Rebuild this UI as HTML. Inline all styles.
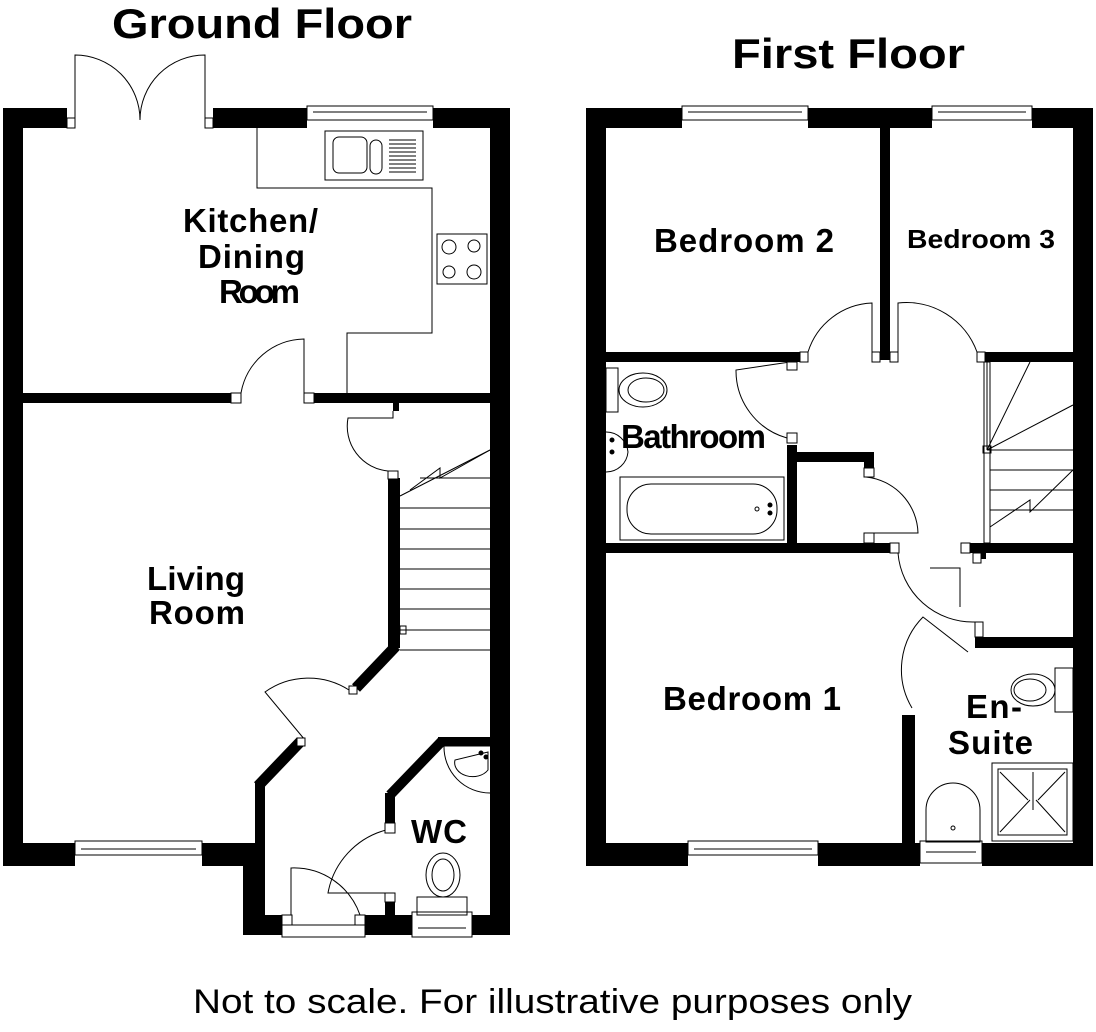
<!DOCTYPE html>
<html><head><meta charset="utf-8"><style>
html,body{margin:0;padding:0;background:#fff;width:1096px;height:1032px;overflow:hidden}
svg{display:block}
text{font-family:"Liberation Sans",Arial,sans-serif;font-weight:bold;fill:#000}
</style></head><body>
<svg width="1096" height="1032" viewBox="0 0 1096 1032" xmlns="http://www.w3.org/2000/svg">
<g fill="#000">
<rect x="3" y="108" width="20" height="758"/>
<rect x="3" y="108" width="64" height="20"/>
<rect x="213" y="108" width="94" height="20"/>
<rect x="433" y="108" width="77" height="20"/>
<rect x="490" y="108" width="20" height="827"/>
<rect x="3" y="843" width="72" height="23"/>
<rect x="202" y="843" width="60" height="23"/>
<rect x="243" y="843" width="19" height="92"/>
<rect x="243" y="915" width="39" height="20"/>
<rect x="365" y="915" width="47" height="20"/>
<rect x="472" y="915" width="38" height="20"/>
<rect x="23" y="393" width="208" height="10"/>
<rect x="314" y="393" width="176" height="10"/>
<rect x="393" y="403" width="6" height="8"/>
<rect x="388" y="478" width="12" height="170"/>
<rect x="255" y="783" width="10" height="135"/>
<rect x="385" y="793" width="10" height="30"/>
<rect x="385" y="902" width="10" height="15"/>
<rect x="438" y="737" width="52" height="9"/>
</g>
<g stroke="#000" fill="none">
<line x1="396" y1="646" x2="356" y2="688" stroke-width="11"/>
<line x1="301" y1="741" x2="258" y2="786" stroke-width="11"/>
<line x1="442" y1="741" x2="390" y2="795" stroke-width="10"/>
</g>
<g stroke="#000" stroke-width="1" fill="none">
<path d="M75 118 V55 A65 65 0 0 1 140 120 M205 118 V55 A65 65 0 0 0 140 120"/>
<rect x="67" y="118" width="8" height="10"/><rect x="205" y="118" width="8" height="10"/>
<rect x="307" y="106" width="126" height="14"/><line x1="313" y1="112" x2="427" y2="112"/>
<rect x="75" y="841" width="127" height="14"/><line x1="81" y1="849" x2="196" y2="849"/>
<rect x="282" y="925" width="83" height="12"/>
<rect x="412" y="912" width="60" height="25"/><line x1="418" y1="928" x2="466" y2="928"/>
<path d="M257 128 V188 H432 V333 H347 V393"/>
<rect x="325" y="131" width="98" height="49"/>
<rect x="333" y="137" width="34" height="36" rx="6"/><rect x="370" y="140" width="12" height="34" rx="6"/>
<path d="M389 140H416M389 144H416M389 148H416M389 152H416M389 156H416M389 160H416M389 164H416M389 168H416M389 172H416"/>
<rect x="437" y="234" width="50" height="50"/>
<circle cx="449" cy="247" r="7"/><circle cx="474" cy="246" r="6"/><circle cx="449" cy="272" r="6"/><circle cx="474" cy="272" r="7"/>
<path d="M304 393 V339 A65 65 0 0 0 241 393"/>
<rect x="231" y="393" width="10" height="10" fill="#fff"/><rect x="304" y="393" width="10" height="10" fill="#fff"/>
<path d="M393 411 V418 H348 A45 45 0 0 0 388 471"/>
<rect x="388" y="471" width="10" height="8" fill="#fff"/>
<path d="M400 496 L490 450 M400 508 H490 M400 529 H490 M400 549 H490 M400 569 H490 M400 589 H490 M400 609 H490 M400 630 H490 M400 650 H490"/>
<line x1="420" y1="478" x2="490" y2="478"/><path d="M410 490 L440 468 L440 478 L490 450"/>
<rect x="400" y="626" width="6" height="8"/>
<path d="M349 690 A75 75 0 0 0 265 692 L305 740"/>
<rect x="349" y="686" width="8" height="8" fill="#fff"/><rect x="297" y="738" width="8" height="8" fill="#fff"/>
<path d="M490 746 H444 A46 46 0 0 0 490 793"/>
<path d="M455 760 A18 14 0 0 0 488 770 L488 752 Z"/>
<circle cx="481" cy="753" r="2" fill="#000"/><circle cx="486" cy="757" r="2" fill="#000"/>
<path d="M386 830 A80 80 0 0 0 328 893 H385"/>
<rect x="385" y="823" width="10" height="10" fill="#fff"/><rect x="385" y="893" width="10" height="9" fill="#fff"/>
<ellipse cx="443" cy="875" rx="17" ry="22"/><ellipse cx="443" cy="875" rx="11" ry="16"/>
<rect x="417" y="897" width="50" height="18"/>
<path d="M291 915 V868 A70 70 0 0 1 360 915"/>
<rect x="282" y="915" width="10" height="10" fill="#fff"/><rect x="355" y="915" width="10" height="10" fill="#fff"/>
</g>
<g fill="#000">
<rect x="586" y="108" width="20" height="758"/>
<rect x="586" y="108" width="96" height="20"/>
<rect x="808" y="108" width="124" height="20"/>
<rect x="1032" y="108" width="61" height="20"/>
<rect x="1073" y="108" width="20" height="758"/>
<rect x="586" y="843" width="102" height="23"/>
<rect x="818" y="843" width="102" height="23"/>
<rect x="982" y="843" width="111" height="23"/>
<rect x="880" y="128" width="10" height="224"/>
<rect x="606" y="352" width="194" height="10"/>
<rect x="880" y="352" width="10" height="8"/>
<rect x="985" y="352" width="88" height="10"/>
<rect x="787" y="445" width="10" height="104"/>
<rect x="797" y="452" width="77" height="10"/>
<rect x="864" y="452" width="10" height="16"/>
<rect x="606" y="543" width="258" height="10"/>
<rect x="864" y="543" width="26" height="10"/>
<rect x="970" y="543" width="103" height="10"/>
<rect x="980" y="553" width="6" height="6"/>
<rect x="975" y="637" width="98" height="11"/>
<rect x="902" y="715" width="13" height="128"/>
</g>
<g stroke="#000" stroke-width="1" fill="none">
<rect x="682" y="106" width="126" height="14"/><line x1="688" y1="112" x2="802" y2="112"/>
<rect x="932" y="106" width="100" height="14"/><line x1="938" y1="112" x2="1026" y2="112"/>
<rect x="688" y="841" width="130" height="14"/><line x1="694" y1="849" x2="812" y2="849"/>
<rect x="920" y="841" width="62" height="22"/><line x1="926" y1="852" x2="976" y2="852"/>
<path d="M808 352 A70 70 0 0 1 872 303 V352"/>
<rect x="800" y="352" width="8" height="10" fill="#fff"/><rect x="872" y="352" width="8" height="10" fill="#fff"/>
<rect x="890" y="352" width="8" height="10" fill="#fff"/><rect x="977" y="352" width="8" height="10" fill="#fff"/>
<path d="M898 352 V303 A75 75 0 0 1 977 352"/>
<path d="M787 438 A70 70 0 0 1 736 370 L790 362"/>
<rect x="787" y="433" width="10" height="10" fill="#fff"/><rect x="787" y="362" width="10" height="8" fill="#fff"/>
<path d="M866 477 A58 58 0 0 1 918 533 H866"/>
<rect x="864" y="468" width="10" height="9" fill="#fff"/><rect x="864" y="533" width="10" height="10" fill="#fff"/>
<path d="M898 553 A75 75 0 0 0 975 622"/>
<rect x="890" y="543" width="9" height="10" fill="#fff"/>
<path d="M930 568 H960 V607"/>
<rect x="961" y="543" width="9" height="10" fill="#fff"/><rect x="973" y="553" width="8" height="10" fill="#fff"/>
<rect x="975" y="622" width="8" height="15" fill="#fff"/>
<path d="M968 652 L923 617 A75 75 0 0 0 912 708"/>
<path d="M987 362 V450 L1030 362 M987 450 L1073 405 M987 450 H1073 M990 470 H1073 M990 490 H1073 M990 510 H1073 M990 527 L1030 500 L1030 512 L1073 470"/>
<rect x="984" y="362" width="6" height="181"/><rect x="983" y="446" width="8" height="7"/>
<ellipse cx="643" cy="390" rx="24" ry="17"/><ellipse cx="646" cy="390" rx="18" ry="12"/>
<rect x="606" y="368" width="12" height="44"/>
<path d="M606 432 A22 22 0 0 1 628 452 A22 22 0 0 1 606 472"/>
<circle cx="612" cy="440" r="2" fill="#000"/><circle cx="612" cy="452" r="2" fill="#000"/>
<rect x="620" y="477" width="164" height="63"/>
<rect x="627" y="484" width="150" height="50" rx="24"/>
<circle cx="757" cy="509" r="2"/><circle cx="770" cy="505" r="2" fill="#000"/><circle cx="770" cy="513" r="2" fill="#000"/>
<ellipse cx="1033" cy="690" rx="22" ry="16"/><ellipse cx="1030" cy="690" rx="16" ry="11"/>
<rect x="1055" y="668" width="18" height="44"/>
<rect x="992" y="763" width="81" height="78"/><rect x="998" y="769" width="69" height="66"/>
<path d="M1000 772 L1028 800 M1065 772 L1038 800 M1033 772 V810 M1000 832 L1030 800 M1065 832 L1036 800"/>
<path d="M926 842 V810 A27 27 0 0 1 980 810 V842 Z"/>
<circle cx="953" cy="828" r="2"/>
</g>
<text x="112" y="38" font-size="42" textLength="300" lengthAdjust="spacingAndGlyphs">Ground Floor</text>
<text x="732" y="68" font-size="42" textLength="233" lengthAdjust="spacingAndGlyphs">First Floor</text>
<g font-size="33" lengthAdjust="spacingAndGlyphs">
<text x="183" y="232" textLength="135">Kitchen/</text>
<text x="198" y="268" textLength="107">Dining</text>
<text x="219" y="303" textLength="81">Room</text>
<text x="147" y="590" textLength="98">Living</text>
<text x="149" y="624" textLength="96">Room</text>
<text x="411" y="843" textLength="56">WC</text>
<text x="654" y="252" textLength="180">Bedroom 2</text>
<text x="621" y="448" textLength="145">Bathroom</text>
<text x="663" y="710" textLength="178">Bedroom 1</text>
<text x="966" y="718" textLength="56">En-</text>
<text x="948" y="754" textLength="85">Suite</text>
</g>
<text x="907" y="248" font-size="26" textLength="148" lengthAdjust="spacingAndGlyphs">Bedroom 3</text>
<text x="193" y="1013" font-size="34" textLength="719" lengthAdjust="spacingAndGlyphs" style="font-weight:normal">Not to scale. For illustrative purposes only</text>
</svg>
</body></html>
